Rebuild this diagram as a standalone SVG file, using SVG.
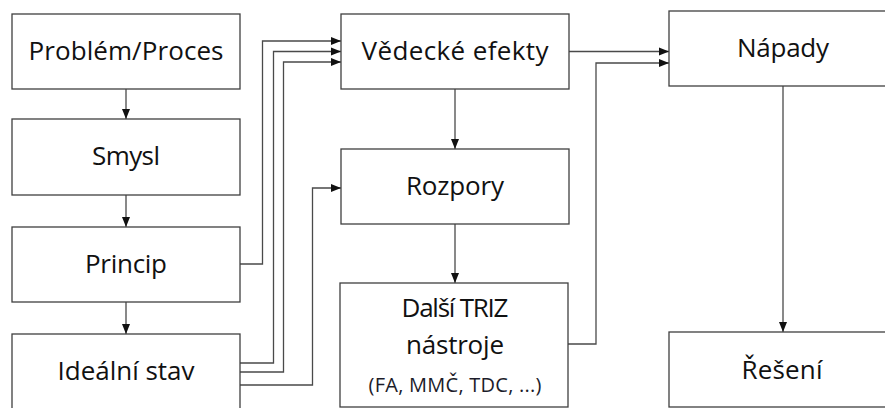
<svg xmlns="http://www.w3.org/2000/svg" width="885" height="408" viewBox="0 0 885 408">
<defs>
<style>
.box{fill:#fff;stroke:#3f3f3f;stroke-width:1.3}
.t{font-family:"Open Sans","Liberation Sans",sans-serif;font-size:26px;fill:#111;text-anchor:middle}
.s{font-family:"Open Sans","Liberation Sans",sans-serif;font-size:20px;fill:#1c1c2a;text-anchor:middle}
.c{fill:none;stroke:#4a4a4a;stroke-width:1.3;marker-end:url(#ah)}
</style>
<marker id="ah" markerUnits="userSpaceOnUse" markerWidth="10" markerHeight="10" viewBox="0 0 10 10" refX="10" refY="5" orient="auto">
<path d="M0,1 L10,5 L0,9 Z" fill="#111"/>
</marker>
</defs>
<rect width="885" height="408" fill="#fff"/>
<g id="connectors">
<path class="c" d="M126 89 V119"/>
<path class="c" d="M126 195 V227"/>
<path class="c" d="M126 302 V334"/>
<path class="c" d="M240 264 H262.5 V41 H341"/>
<path class="c" d="M240 363 H273.5 V51.5 H341"/>
<path class="c" d="M240 372 H283.5 V62 H341"/>
<path class="c" d="M240 385 H312.5 V188 H341"/>
<path class="c" d="M455 89 V149"/>
<path class="c" d="M455 224 V283"/>
<path class="c" d="M569 51.5 H669"/>
<path class="c" d="M568 344 H596 V63 H669"/>
<path class="c" d="M783 86 V332"/>
</g>
<g id="problem">
<rect class="box" x="12" y="14" width="228" height="75"/>
<text class="t" x="126" y="60" textLength="195" lengthAdjust="spacing">Problém/Proces</text>
</g>
<g id="smysl">
<rect class="box" x="12" y="119" width="228" height="76"/>
<text class="t" x="126" y="165" textLength="68" lengthAdjust="spacing">Smysl</text>
</g>
<g id="princip">
<rect class="box" x="12" y="227" width="228" height="75"/>
<text class="t" x="126" y="273" textLength="82" lengthAdjust="spacing">Princip</text>
</g>
<g id="idealni">
<rect class="box" x="12" y="334" width="228" height="90"/>
<text class="t" x="126" y="380" textLength="137" lengthAdjust="spacing">Ideální stav</text>
</g>
<g id="vedecke">
<rect class="box" x="341" y="14" width="228" height="75"/>
<text class="t" x="455" y="60" textLength="187" lengthAdjust="spacing">Vědecké efekty</text>
</g>
<g id="rozpory">
<rect class="box" x="341" y="149" width="228" height="75"/>
<text class="t" x="455" y="195" textLength="98" lengthAdjust="spacing">Rozpory</text>
</g>
<g id="dalsi">
<rect class="box" x="340" y="283" width="228" height="124"/>
<text class="t" x="455" y="317" textLength="107" lengthAdjust="spacing">Další TRIZ</text>
<text class="t" x="455" y="354" textLength="98" lengthAdjust="spacing">nástroje</text>
<text class="s" x="455" y="392" textLength="173" lengthAdjust="spacing">(FA, MMČ, TDC, ...)</text>
</g>
<g id="napady">
<rect class="box" x="669" y="11" width="240" height="75"/>
<text class="t" x="783" y="57" textLength="92" lengthAdjust="spacing">Nápady</text>
</g>
<g id="reseni">
<rect class="box" x="669" y="332" width="240" height="75"/>
<text class="t" x="782" y="379" textLength="81" lengthAdjust="spacing">Řešení</text>
</g>
</svg>
